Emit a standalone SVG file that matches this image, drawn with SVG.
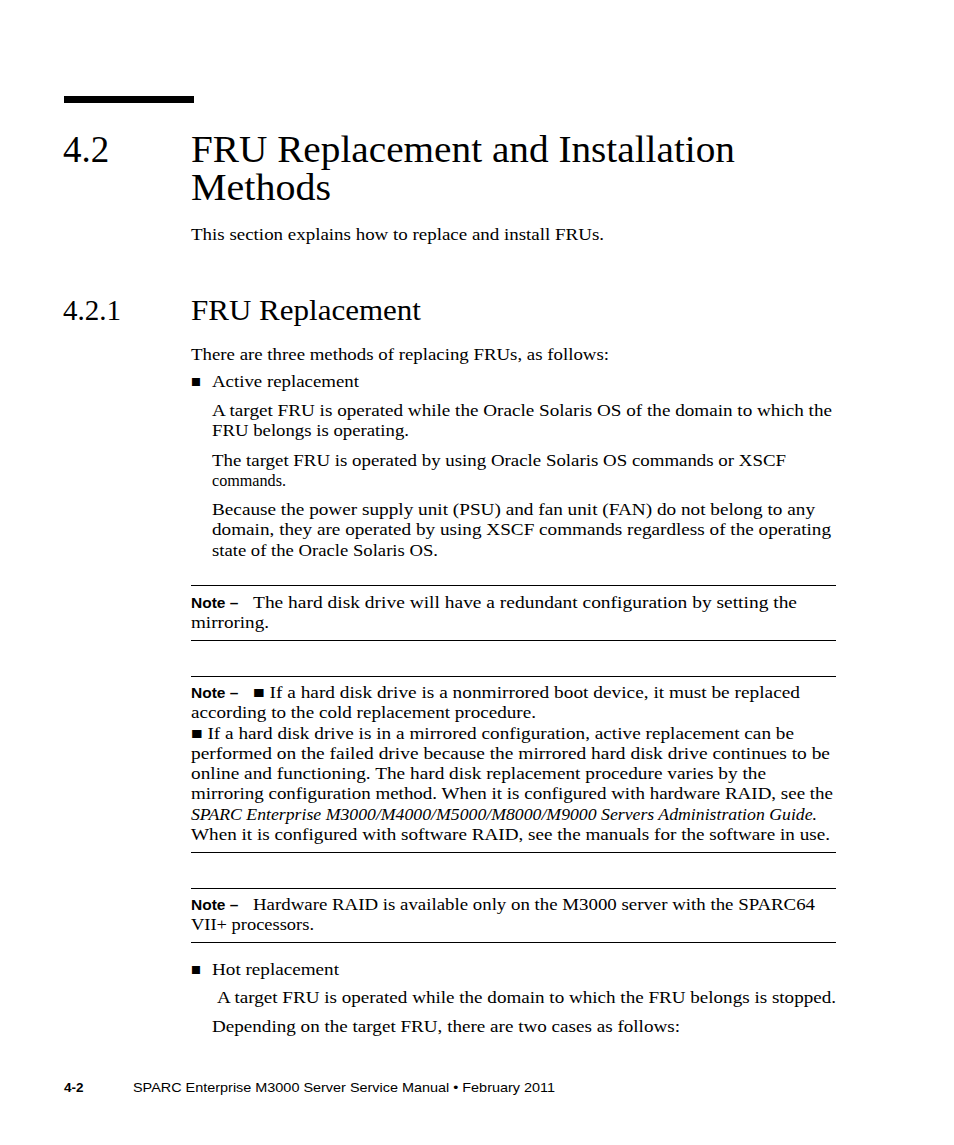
<svg xmlns="http://www.w3.org/2000/svg" width="954" height="1145" viewBox="0 0 954 1145">
<style>
.b{font-family:"Liberation Serif","DejaVu Serif",serif;font-size:16.5px;fill:#000}
.h1{font-family:"Liberation Serif","DejaVu Serif",serif;font-size:37px;fill:#000}
.h2{font-family:"Liberation Serif","DejaVu Serif",serif;font-size:29px;fill:#000}
.n{font-family:"Liberation Sans","DejaVu Sans",sans-serif;font-weight:bold;font-size:15.5px;fill:#000}
.f{font-family:"Liberation Sans","DejaVu Sans",sans-serif;font-size:13.5px;fill:#000}
.r{stroke:#000;stroke-width:1}
</style>
<rect width="954" height="1145" fill="#fff"/>
<rect x="64" y="96" width="130" height="7" fill="#000"/>
<text class="h1" x="63" y="162">4.2</text>
<text class="h1" x="191" y="162" textLength="544" lengthAdjust="spacingAndGlyphs">FRU Replacement and Installation</text>
<text class="h1" x="191" y="200" textLength="140" lengthAdjust="spacingAndGlyphs">Methods</text>
<text class="b" x="191" y="240" textLength="413" lengthAdjust="spacingAndGlyphs">This section explains how to replace and install FRUs.</text>
<text class="h2" x="63" y="320">4.2.1</text>
<text class="h2" x="191" y="320" textLength="230" lengthAdjust="spacingAndGlyphs">FRU Replacement</text>
<text class="b" x="191" y="360" textLength="418" lengthAdjust="spacingAndGlyphs">There are three methods of replacing FRUs, as follows:</text>
<text class="b" x="191" y="387" font-size="12">■</text>
<text class="b" x="212" y="387" textLength="147" lengthAdjust="spacingAndGlyphs">Active replacement</text>
<text class="b" x="212" y="416" textLength="620" lengthAdjust="spacingAndGlyphs">A target FRU is operated while the Oracle Solaris OS of the domain to which the</text>
<text class="b" x="212" y="436" textLength="197" lengthAdjust="spacingAndGlyphs">FRU belongs is operating.</text>
<text class="b" x="212" y="466" textLength="574" lengthAdjust="spacingAndGlyphs">The target FRU is operated by using Oracle Solaris OS commands or XSCF</text>
<text class="b" x="212" y="486" textLength="74" lengthAdjust="spacingAndGlyphs">commands.</text>
<text class="b" x="212" y="515" textLength="603" lengthAdjust="spacingAndGlyphs">Because the power supply unit (PSU) and fan unit (FAN) do not belong to any</text>
<text class="b" x="212" y="535" textLength="619" lengthAdjust="spacingAndGlyphs">domain, they are operated by using XSCF commands regardless of the operating</text>
<text class="b" x="212" y="556" textLength="226" lengthAdjust="spacingAndGlyphs">state of the Oracle Solaris OS.</text>
<line class="r" x1="191" y1="585.5" x2="836" y2="585.5"/>
<text class="n" x="191" y="608">Note –</text>
<text class="b" x="253" y="608" textLength="544" lengthAdjust="spacingAndGlyphs">The hard disk drive will have a redundant configuration by setting the</text>
<text class="b" x="191" y="628" textLength="78" lengthAdjust="spacingAndGlyphs">mirroring.</text>
<line class="r" x1="191" y1="640.5" x2="836" y2="640.5"/>
<line class="r" x1="191" y1="676.5" x2="836" y2="676.5"/>
<text class="n" x="191" y="698">Note –</text>
<text class="b" x="253" y="698" textLength="547" lengthAdjust="spacingAndGlyphs">■ If a hard disk drive is a nonmirrored boot device, it must be replaced</text>
<text class="b" x="191" y="718" textLength="345" lengthAdjust="spacingAndGlyphs">according to the cold replacement procedure.</text>
<text class="b" x="191" y="739" textLength="603" lengthAdjust="spacingAndGlyphs">■ If a hard disk drive is in a mirrored configuration, active replacement can be</text>
<text class="b" x="191" y="759" textLength="639" lengthAdjust="spacingAndGlyphs">performed on the failed drive because the mirrored hard disk drive continues to be</text>
<text class="b" x="191" y="779" textLength="575" lengthAdjust="spacingAndGlyphs">online and functioning. The hard disk replacement procedure varies by the</text>
<text class="b" x="191" y="799" textLength="642" lengthAdjust="spacingAndGlyphs">mirroring configuration method. When it is configured with hardware RAID, see the</text>
<text class="b" x="191" y="820" font-style="italic" textLength="626" lengthAdjust="spacingAndGlyphs">SPARC Enterprise M3000/M4000/M5000/M8000/M9000 Servers Administration Guide.</text>
<text class="b" x="191" y="840" textLength="639" lengthAdjust="spacingAndGlyphs">When it is configured with software RAID, see the manuals for the software in use.</text>
<line class="r" x1="191" y1="852.5" x2="836" y2="852.5"/>
<line class="r" x1="191" y1="888.5" x2="836" y2="888.5"/>
<text class="n" x="191" y="910">Note –</text>
<text class="b" x="253" y="910" textLength="562" lengthAdjust="spacingAndGlyphs">Hardware RAID is available only on the M3000 server with the SPARC64</text>
<text class="b" x="191" y="930" textLength="123" lengthAdjust="spacingAndGlyphs">VII+ processors.</text>
<line class="r" x1="191" y1="942.5" x2="836" y2="942.5"/>
<text class="b" x="191" y="975" font-size="12">■</text>
<text class="b" x="212" y="975" textLength="127" lengthAdjust="spacingAndGlyphs">Hot replacement</text>
<text class="b" x="217" y="1003" textLength="619" lengthAdjust="spacingAndGlyphs">A target FRU is operated while the domain to which the FRU belongs is stopped.</text>
<text class="b" x="212" y="1032" textLength="468" lengthAdjust="spacingAndGlyphs">Depending on the target FRU, there are two cases as follows:</text>
<text class="f" x="64" y="1092" font-weight="bold">4-2</text>
<text class="f" x="133" y="1092" textLength="422" lengthAdjust="spacingAndGlyphs">SPARC Enterprise M3000 Server Service Manual • February 2011</text>
</svg>
